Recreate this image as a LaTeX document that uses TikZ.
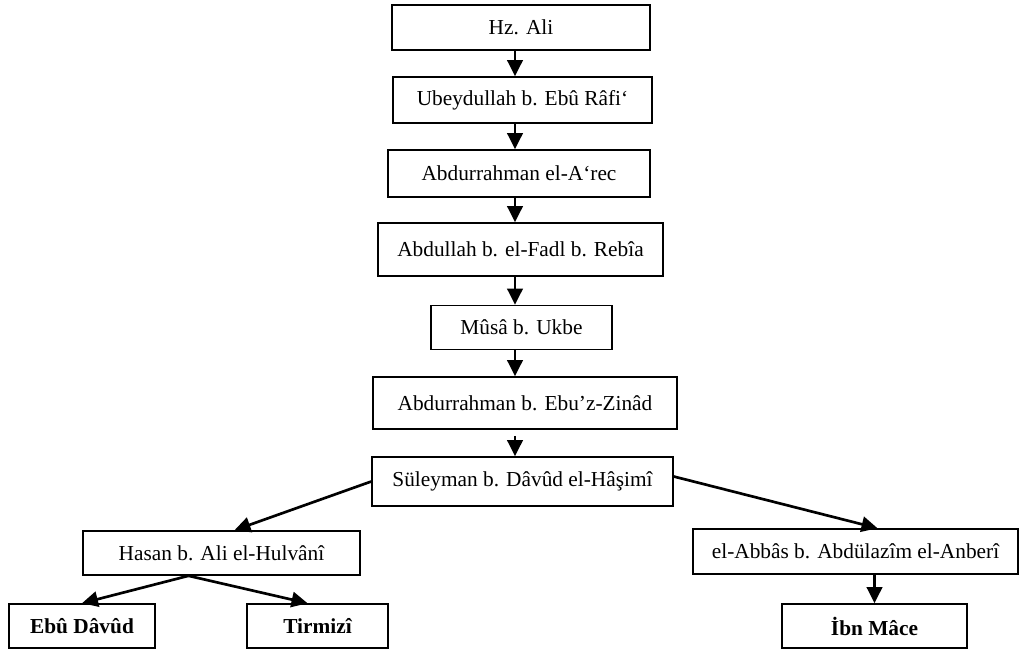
\documentclass[tikz,border=0pt]{standalone}
\usepackage{fontspec}
\setmainfont{Liberation Serif}
\usepackage{tikz}
\usetikzlibrary{calc,positioning,arrows.meta}
\tikzstyle{box}   = [draw=black, line width=1.2pt, rectangle, inner sep=0pt, font=\fontsize{16}{19}\selectfont, text centered]
\tikzstyle{bbox}  = [box, font=\fontsize{16}{19}\selectfont\bfseries]
\tikzstyle{arrow} = [line width=2pt, -{Triangle[length=12pt,width=11.5pt]}]

\begin{document}
\begin{tikzpicture}[x=0.75pt,y=-0.75pt]
        \useasboundingbox (0,0) rectangle (1020,650);
        \coordinate (spine) at (515,0);

        % chain
        \node[box, minimum width=193.5pt, minimum height=33.75pt] (ali) at (521,27.5) {Hz. Ali};
        \node[box, minimum width=194.25pt, minimum height=34.5pt] (ubeyd) at (522.5,100) {Ubeydullah b. Ebû Râfi‘};
        \node[box, minimum width=196.5pt, minimum height=35.25pt] (arec) at (519,173.5) {Abdurrahman el-A‘rec};
        \node[box, minimum width=213.75pt, minimum height=39.75pt] (fadl) at (520.5,249.5) {Abdullah b. el-Fadl b. Rebîa};
        \node[box, minimum width=135.75pt, minimum height=33pt] (musa) at (521.5,327.5) {Mûsâ b. Ukbe};
        \node[box, minimum width=228pt, minimum height=39pt] (zinad) at (525,403) {Abdurrahman b. Ebu’z-Zinâd};
        \node[box, minimum width=225.75pt, minimum height=36.75pt] (suleyman) at (522.5,481.5) {Süleyman b. Dâvûd el-Hâşimî};

        % branches
        \node[box, minimum width=207.75pt, minimum height=33pt] (hasan) at (221.5,553) {Hasan b. Ali el-Hulvânî};
        \node[box, minimum width=243.75pt, minimum height=33.75pt] (abbas) at (855.5,551.5) {el-Abbâs b. Abdülazîm el-Anberî};

        \node[bbox, minimum width=109.5pt, minimum height=33pt] (ebudavud) at (82,626) {Ebû Dâvûd};
        \node[bbox, minimum width=105.75pt, minimum height=33pt] (tirmizi) at (317.5,626) {Tirmizî};
        \node[bbox, minimum width=138.75pt, minimum height=33pt] (ibnmace) at (874.5,626) {İbn Mâce};

        \draw[arrow] (ali.south -| spine) -- (ubeyd.north -| spine);
        \draw[arrow] (ubeyd.south -| spine) -- (arec.north -| spine);
        \draw[arrow] (arec.south -| spine) -- (fadl.north -| spine);
        \draw[arrow] (fadl.south -| spine) -- (musa.north -| spine);
        \draw[arrow] (musa.south -| spine) -- (zinad.north -| spine);
        \draw[arrow, shorten <=4.5pt] (zinad.south -| spine) -- (suleyman.north -| spine);

        \draw[arrow] (suleyman.west) -- ($(hasan.north)+(13,0)$);
        \draw[arrow] ($(suleyman.east)+(0,-5)$) -- ($(abbas.north)+(22,0)$);
        \draw[arrow] ($(hasan.south)+(-33,0)$) -- (ebudavud.north);
        \draw[arrow] ($(hasan.south)+(-33,0)$) -- ($(tirmizi.north)+(-10,0)$);
        \draw[arrow] (abbas.south -| ibnmace.north) -- (ibnmace.north);
    \end{tikzpicture}
\end{document}
